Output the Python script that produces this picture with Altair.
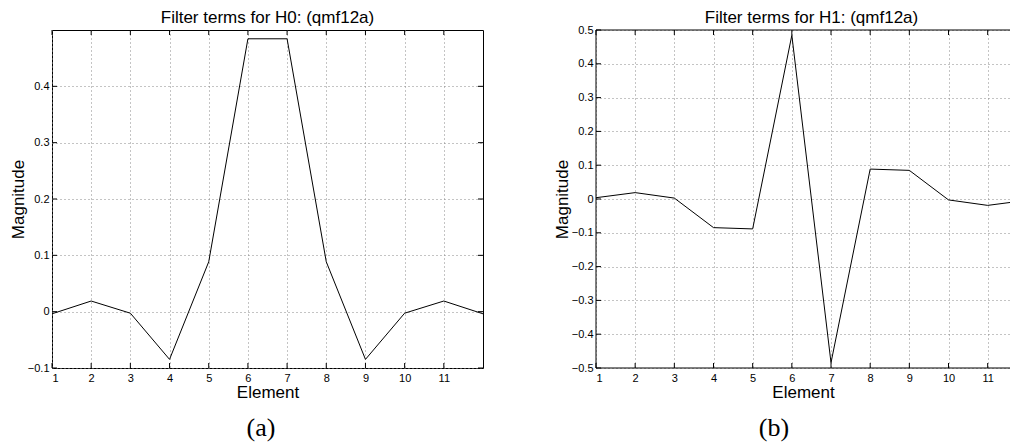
import altair as alt
import pandas as pd

# ---- data ----
elements = list(range(1, 13))
h0_values = [-0.0038, 0.0189, -0.0027, -0.0847, 0.0885, 0.4844,
             0.4844, 0.0885, -0.0847, -0.0027, 0.0189, -0.0038]
h1_values = [0.0038, 0.0189, 0.0027, -0.0847, -0.0885, 0.4844,
             -0.4844, 0.0885, 0.0847, -0.0027, -0.0189, -0.0038]
x_tick_values = list(range(1, 12))
h0_y_ticks = [-0.1, 0, 0.1, 0.2, 0.3, 0.4]
h1_y_ticks = [-0.5, -0.4, -0.3, -0.2, -0.1, 0, 0.1, 0.2, 0.3, 0.4, 0.5]
panel_titles = ["Filter terms for H0: (qmf12a)", "Filter terms for H1: (qmf12a)"]
panel_labels = ["(a)", "(b)"]

H = 338
FULL_W = 431
SANS = "Liberation Sans"
SERIF = "Liberation Serif"


def panel(values, title, xdomain, ydomain, yticks, label, label_x, W, full_frame):
    x_enc = alt.X("Element:Q",
                  scale=alt.Scale(domain=xdomain, nice=False, zero=False),
                  axis=alt.Axis(values=x_tick_values, format="d", title="Element",
                                labelOverlap=False, labelPadding=4, titlePadding=1))
    y_enc = alt.Y("Magnitude:Q",
                  scale=alt.Scale(domain=ydomain, nice=False, zero=False),
                  axis=alt.Axis(values=yticks, format="~g", title="Magnitude",
                                labelOverlap=False, labelPadding=3, titlePadding=0))
    df = pd.DataFrame({"Element": elements, "Magnitude": values})
    xt = pd.DataFrame({"Element": x_tick_values})
    yt = pd.DataFrame({"Magnitude": yticks})
    one = pd.DataFrame({"k": [0]})

    layers = [alt.Chart(df).mark_line(color="black", strokeWidth=1, clip=True).encode(
        x=x_enc, y=y_enc)]
    # inward tick marks (MATLAB style)
    layers.append(alt.Chart(xt).mark_rule(color="black", strokeWidth=1).encode(
        x=x_enc, y=alt.value(H), y2=alt.value(H - 5)))
    layers.append(alt.Chart(xt).mark_rule(color="black", strokeWidth=1).encode(
        x=x_enc, y=alt.value(0), y2=alt.value(5)))
    layers.append(alt.Chart(yt).mark_rule(color="black", strokeWidth=1).encode(
        y=y_enc, x=alt.value(0), x2=alt.value(5)))
    if full_frame:
        layers.append(alt.Chart(yt).mark_rule(color="black", strokeWidth=1).encode(
            y=y_enc, x=alt.value(W), x2=alt.value(W - 5)))
    else:
        for enc in (dict(x=alt.value(0), x2=alt.value(W), y=alt.value(0)),
                    dict(x=alt.value(0), x2=alt.value(W), y=alt.value(H)),
                    dict(x=alt.value(0), y=alt.value(0), y2=alt.value(H))):
            layers.append(alt.Chart(one).mark_rule(color="black", strokeWidth=1).encode(**enc))
    # panel title (centred on the full-width axes box)
    layers.append(alt.Chart(pd.DataFrame({"title": [title]})).mark_text(
        font=SANS, fontSize=17, baseline="top", align="center", color="black"
    ).encode(text="title:N", x=alt.value(FULL_W / 2), y=alt.value(-20)))
    # sub-figure label
    layers.append(alt.Chart(pd.DataFrame({"label": [label]})).mark_text(
        font=SERIF, fontSize=26, baseline="middle", align="center", color="black"
    ).encode(text="label:N", x=alt.value(label_x), y=alt.value(398)))

    props = dict(width=W, height=H)
    if full_frame:
        props["view"] = alt.ViewBackground(stroke="black", strokeWidth=1)
    else:
        props["view"] = alt.ViewBackground(stroke="transparent")
    return alt.layer(*layers).properties(**props)


left_panel = panel(h0_values, panel_titles[0], [1, 12], [-0.1, 0.5], h0_y_ticks,
                   panel_labels[0], 209, FULL_W, True)
right_panel = panel(h1_values, panel_titles[1], [1, 11.57], [-0.5, 0.5], h1_y_ticks,
                    panel_labels[1], 178, 414, False)

chart = alt.hconcat(left_panel, right_panel, spacing=68).properties(
    padding=0, background="white"
).configure_axis(
    domain=False, ticks=False, grid=True, gridDash=[1, 3], gridColor="#888888",
    gridWidth=1, labelFont=SANS, labelFontSize=11, labelColor="black",
    titleFont=SANS, titleFontSize=17, titleFontWeight="normal", titleColor="black",
    labelOverlap=False,
)

chart.save("out.html", embed_options={"renderer": "svg", "actions": False})
